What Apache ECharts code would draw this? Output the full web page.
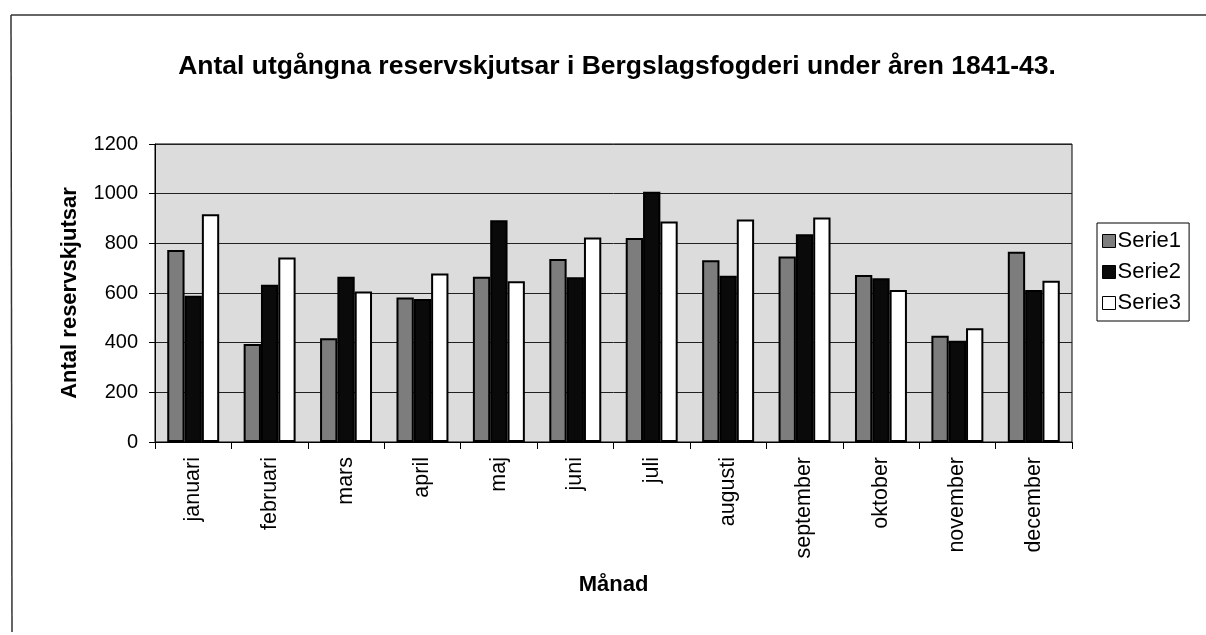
<!DOCTYPE html>
<html>
<head>
<meta charset="utf-8">
<script src="https://cdn.jsdelivr.net/npm/echarts@6/dist/echarts.min.js"></script>
<style>html,body{margin:0;padding:0;background:#fff}#c{width:1206px;height:635px}</style>
</head>
<body>
<div id="c"></div>
<script>
const categories = ['januari','februari','mars','april','maj','juni','juli','augusti','september','oktober','november','december'];
const serie1 = [773, 395, 418, 582, 665, 737, 821, 732, 747, 672, 428, 766];
const serie2 = [589, 633, 665, 576, 893, 663, 1008, 669, 837, 659, 408, 612];
const serie3 = [917, 743, 606, 679, 647, 823, 888, 896, 904, 612, 458, 649];
const seriesNames = ['Serie1','Serie2','Serie3'];
const yTicks = [0, 200, 400, 600, 800, 1000, 1200];

const chart = echarts.init(document.getElementById('c'), null, {renderer:'canvas'});
const font = 'Arial, "Liberation Sans", sans-serif';
const colors = ['#7d7d7d', '#0a0a0a', '#ffffff'];
const data = [serie1, serie2, serie3];
chart.setOption({
  animation: false,
  backgroundColor: '#fff',
  title: {
    text: 'Antal utgångna reservskjutsar i Bergslagsfogderi under åren 1841-43.',
    left: 612, top: 48, textAlign: 'center',
    textStyle: {fontFamily: font, fontSize: 26.5, fontWeight: 'bold', color: '#000'}
  },
  legend: {
    orient: 'vertical', left: 1097, top: 223,
    data: seriesNames,
    itemWidth: 13, itemHeight: 13, itemGap: 9,
    icon: 'rect',
    borderColor: '#000', borderWidth: 1, padding: [7, 8, 7, 5],
    textStyle: {fontFamily: font, fontSize: 22, color: '#000', padding: [0,0,0,-3]},
    itemStyle: {borderColor: '#000', borderWidth: 1}
  },
  grid: {left: 155, right: 134, top: 144, bottom: 193, show: true, backgroundColor: '#dcdcdc', borderColor: '#000', borderWidth: 1},
  xAxis: {
    type: 'category', data: categories,
    name: 'Månad', nameLocation: 'middle', nameGap: 132,
    nameTextStyle: {fontFamily: font, fontSize: 22, fontWeight: 'bold', color: '#000'},
    axisLine: {lineStyle: {color: '#000', width: 1}},
    axisTick: {show: true, alignWithLabel: false, length: 7, lineStyle: {color: '#000'}},
    axisLabel: {rotate: 90, fontFamily: font, fontSize: 21.5, color: '#000', margin: 15}
  },
  yAxis: {
    type: 'value', min: 0, max: 1200, interval: 200,
    name: 'Antal reservskjutsar', nameLocation: 'middle', nameGap: 74, nameRotate: 90,
    nameTextStyle: {fontFamily: font, fontSize: 22, fontWeight: 'bold', color: '#000'},
    axisLine: {show: true, lineStyle: {color: '#000', width: 1}},
    axisTick: {show: true, length: 6, lineStyle: {color: '#000'}},
    axisLabel: {fontFamily: font, fontSize: 20, color: '#000', margin: 17,
      formatter: v => yTicks.includes(v) ? String(v) : ''},
    splitLine: {show: true, lineStyle: {color: '#222', width: 1}}
  },
  series: data.map((d, i) => ({
    name: seriesNames[i], type: 'bar', data: d,
    barGap: '0%', barCategoryGap: '32%',
    itemStyle: {color: colors[i], borderColor: '#000', borderWidth: 2}
  })),
  graphic: [
    {type: 'line', shape: {x1: 11, y1: 15, x2: 1206, y2: 15}, style: {stroke: '#333', lineWidth: 1.5}},
    {type: 'line', shape: {x1: 11, y1: 15, x2: 12, y2: 632}, style: {stroke: '#333', lineWidth: 1.5}}
  ]
});
</script>
</body>
</html>
